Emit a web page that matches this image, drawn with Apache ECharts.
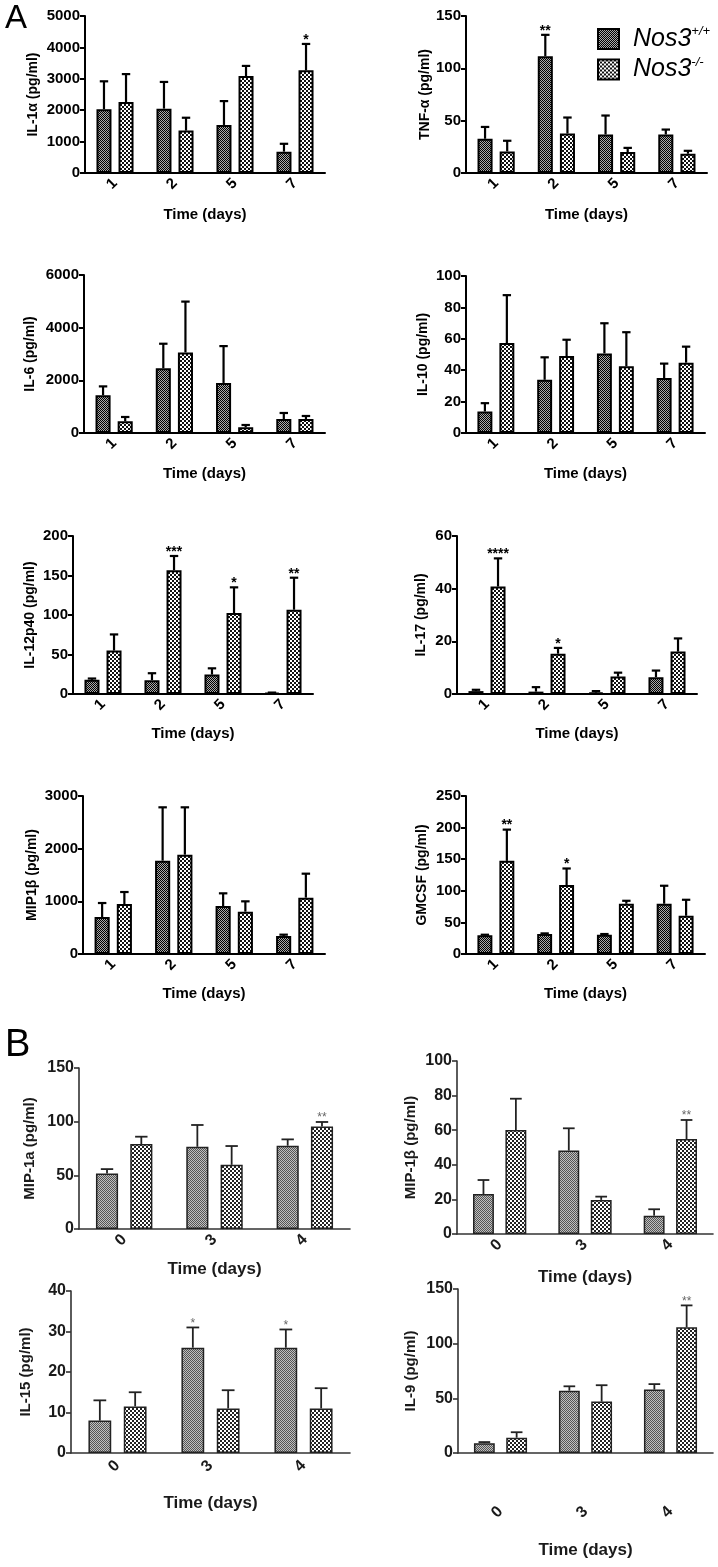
<!DOCTYPE html>
<html><head><meta charset="utf-8">
<script src="https://cdn.jsdelivr.net/npm/echarts@6/dist/echarts.min.js"></script>
<style>html,body{margin:0;padding:0;background:#fff}#c{width:718px;height:1567px}</style>
</head><body><div id="c"></div>
<script>
// ---------- DATA ----------
const daysA = ['1', '2', '5', '7'];
const daysB = ['0', '3', '4'];
const seriesNames = ['Nos3+/+', 'Nos3-/-'];

const il1aWT = [2030, 2050, 1530, 680];
const il1aWTsem = [890, 850, 760, 250];
const il1aKO = [2260, 1350, 3090, 3270];
const il1aKOsem = [890, 410, 320, 840];
const il1aWTstars = ['', '', '', ''];
const il1aKOstars = ['', '', '', '*'];

const tnfWT = [32.7, 111.6, 36.8, 36.8];
const tnfWTsem = [11.3, 20.4, 18.1, 4.7];
const tnfKO = [20.6, 37.7, 20, 18.4];
const tnfKOsem = [10.2, 15.3, 4, 2.8];
const tnfWTstars = ['', '**', '', ''];
const tnfKOstars = ['', '', '', ''];

const il6WT = [1430, 2460, 1900, 532];
const il6WTsem = [340, 930, 1400, 228];
const il6KO = [443, 3060, 215, 532];
const il6KOsem = [165, 1930, 89, 114];
const il6WTstars = ['', '', '', ''];
const il6KOstars = ['', '', '', ''];

const il10WT = [13.7, 33.9, 50.7, 35];
const il10WTsem = [5.3, 14.3, 19.2, 9.2];
const il10KO = [57.3, 49, 42.5, 44.8];
const il10KOsem = [30.5, 10.4, 21.7, 10.2];
const il10WTstars = ['', '', '', ''];
const il10KOstars = ['', '', '', ''];

const il12WT = [17.9, 17.5, 24.6, 1.5];
const il12WTsem = [1.7, 8.8, 7.9, 0.3];
const il12KO = [55, 156.6, 102.5, 106.7];
const il12KOsem = [20.4, 18.1, 32.5, 40.5];
const il12WTstars = ['', '', '', ''];
const il12KOstars = ['', '***', '*', '**'];

const il17WT = [1.1, 0.9, 0.5, 6.4];
const il17WTsem = [0.5, 1.7, 0.6, 2.5];
const il17KO = [40.8, 15.3, 6.6, 16.1];
const il17KOsem = [10.7, 2.2, 1.5, 5];
const il17WTstars = ['', '', '', ''];
const il17KOstars = ['****', '*', '', ''];

const mip1bWT = [702, 1772, 911, 342];
const mip1bWTsem = [266, 1013, 241, 25];
const mip1bKO = [949, 1886, 804, 1070];
const mip1bKOsem = [228, 899, 196, 455];
const mip1bWTstars = ['', '', '', ''];
const mip1bKOstars = ['', '', '', ''];

const gmcsfWT = [29.5, 31.6, 30.5, 79.5];
const gmcsfWTsem = [1, 1, 1.1, 28.5];
const gmcsfKO = [147.4, 109, 79.5, 60.5];
const gmcsfKOsem = [49.4, 26.3, 4.7, 25.3];
const gmcsfWTstars = ['', '', '', ''];
const gmcsfKOstars = ['**', '*', '', ''];

const bMip1aWT = [51.7, 76.6, 77.6];
const bMip1aWTsem = [4.1, 20.3, 5.9];
const bMip1aKO = [79.1, 59.8, 95.6];
const bMip1aKOsem = [6.9, 17.5, 4.1];
const bMip1aWTstars = ['', '', ''];
const bMip1aKOstars = ['', '', '**'];

const bMip1bWT = [23.1, 48.2, 10.6];
const bMip1bWTsem = [8.1, 12.9, 3.7];
const bMip1bKO = [60.1, 19.7, 54.9];
const bMip1bKOsem = [18.1, 1.9, 11];
const bMip1bWTstars = ['', '', ''];
const bMip1bKOstars = ['', '', '**'];

const il15WT = [8, 26, 26];
const il15WTsem = [5, 5, 4.5];
const il15KO = [11.5, 11, 11];
const il15KOsem = [3.5, 4.5, 5];
const il15WTstars = ['', '*', '*'];
const il15KOstars = ['', '', ''];

const il9WT = [9, 57, 58];
const il9WTsem = [1, 4, 5];
const il9KO = [14, 47, 115];
const il9KOsem = [5, 15, 20];
const il9WTstars = ['', '', ''];
const il9KOstars = ['', '', '**'];

// ---------- PANELS ----------
const panels = [
  {y: 'IL-1α (pg/ml)', cats: daysA, wt: il1aWT, ws: il1aWTsem, ko: il1aKO, ks: il1aKOsem, wst: il1aWTstars, kst: il1aKOstars, max: 5000, iv: 1000},
  {y: 'TNF-α (pg/ml)', cats: daysA, wt: tnfWT, ws: tnfWTsem, ko: tnfKO, ks: tnfKOsem, wst: tnfWTstars, kst: tnfKOstars, max: 150, iv: 50},
  {y: 'IL-6 (pg/ml)', cats: daysA, wt: il6WT, ws: il6WTsem, ko: il6KO, ks: il6KOsem, wst: il6WTstars, kst: il6KOstars, max: 6000, iv: 2000},
  {y: 'IL-10 (pg/ml)', cats: daysA, wt: il10WT, ws: il10WTsem, ko: il10KO, ks: il10KOsem, wst: il10WTstars, kst: il10KOstars, max: 100, iv: 20},
  {y: 'IL-12p40 (pg/ml)', cats: daysA, wt: il12WT, ws: il12WTsem, ko: il12KO, ks: il12KOsem, wst: il12WTstars, kst: il12KOstars, max: 200, iv: 50},
  {y: 'IL-17 (pg/ml)', cats: daysA, wt: il17WT, ws: il17WTsem, ko: il17KO, ks: il17KOsem, wst: il17WTstars, kst: il17KOstars, max: 60, iv: 20},
  {y: 'MIP1β (pg/ml)', cats: daysA, wt: mip1bWT, ws: mip1bWTsem, ko: mip1bKO, ks: mip1bKOsem, wst: mip1bWTstars, kst: mip1bKOstars, max: 3000, iv: 1000},
  {y: 'GMCSF (pg/ml)', cats: daysA, wt: gmcsfWT, ws: gmcsfWTsem, ko: gmcsfKO, ks: gmcsfKOsem, wst: gmcsfWTstars, kst: gmcsfKOstars, max: 250, iv: 50},
  {y: 'MIP-1a (pg/ml)', cats: daysB, wt: bMip1aWT, ws: bMip1aWTsem, ko: bMip1aKO, ks: bMip1aKOsem, wst: bMip1aWTstars, kst: bMip1aKOstars, max: 150, iv: 50, b: true},
  {y: 'MIP-1β (pg/ml)', cats: daysB, wt: bMip1bWT, ws: bMip1bWTsem, ko: bMip1bKO, ks: bMip1bKOsem, wst: bMip1bWTstars, kst: bMip1bKOstars, max: 100, iv: 20, b: true},
  {y: 'IL-15 (pg/ml)', cats: daysB, wt: il15WT, ws: il15WTsem, ko: il15KO, ks: il15KOsem, wst: il15WTstars, kst: il15KOstars, max: 40, iv: 10, b: true},
  {y: 'IL-9 (pg/ml)', cats: daysB, wt: il9WT, ws: il9WTsem, ko: il9KO, ks: il9KOsem, wst: il9WTstars, kst: il9KOstars, max: 150, iv: 50, b: true}
];

// ---------- LAYOUT ----------
const layout = [
  {l: 85, t: 16, w: 240, h: 157, yg: 45, xg: 34, lm: 8},
  {l: 466, t: 16, w: 241, h: 157, yg: 34, xg: 34, lm: 8},
  {l: 84, t: 275, w: 241, h: 158, yg: 47, xg: 33, lm: 8},
  {l: 466, t: 276, w: 239, h: 157, yg: 36, xg: 33, lm: 8},
  {l: 73, t: 536, w: 240, h: 158, yg: 36, xg: 32, lm: 8},
  {l: 457, t: 536, w: 240, h: 158, yg: 29, xg: 32, lm: 8},
  {l: 83, t: 796, w: 242, h: 158, yg: 44, xg: 32, lm: 8},
  {l: 466, t: 796, w: 239, h: 158, yg: 37, xg: 32, lm: 8},
  {l: 79, t: 1068, w: 271, h: 161, yg: 42, xg: 32, lm: 8},
  {l: 457, t: 1061, w: 256, h: 173, yg: 39, xg: 35, lm: 8},
  {l: 71, t: 1291, w: 279, h: 162, yg: 38, xg: 42, lm: 10},
  {l: 458, t: 1289, w: 255, h: 164, yg: 40, xg: 89, lm: 56}
];

const FONT = '"Liberation Sans", Arial, sans-serif';

function makePattern(size, fn) {
  const c = document.createElement('canvas');
  c.width = size; c.height = size;
  const g = c.getContext('2d');
  for (let y = 0; y < size; y++) for (let x = 0; x < size; x++) {
    g.fillStyle = fn(x, y);
    g.fillRect(x, y, 1, 1);
  }
  return {image: c, repeat: 'repeat'};
}
const patA_WT = makePattern(2, (x, y) => ((x + y) % 2 === 0 ? '#000' : '#aaa'));
const patA_KO = makePattern(4, (x, y) => ((Math.floor(x / 2) + Math.floor(y / 2)) % 2 === 0 ? '#111' : '#fff'));
const patB_WT = makePattern(2, (x, y) => ((x + y) % 2 === 0 ? '#555' : '#c0c0c0'));
const patB_KO = makePattern(4, (x, y) => ((Math.floor(x / 2) + Math.floor(y / 2)) % 2 === 0 ? '#222' : '#fff'));

function errRender(stars, sign, bw, gap, lw, color, starFont, starColor) {
  return function (params, api) {
    const i = api.value(0), m = api.value(1), e = api.value(2);
    const band = api.size([1, 0])[0];
    const w = band * bw;
    const off = sign * w * (1 + gap) / 2;
    const p0 = api.coord([i, m]);
    const p1 = api.coord([i, m + e]);
    const x = p0[0] + off;
    const half = w * 0.28;
    const ch = [
      {type: 'line', shape: {x1: x, y1: p0[1], x2: x, y2: p1[1]}, style: {stroke: color, lineWidth: lw}},
      {type: 'line', shape: {x1: x - half, y1: p1[1], x2: x + half, y2: p1[1]}, style: {stroke: color, lineWidth: lw}}
    ];
    const s = stars[params.dataIndex];
    if (s) ch.push({type: 'text', style: {text: s, x: x, y: p1[1] - 4, align: 'center', verticalAlign: 'middle', font: starFont, fill: starColor}});
    return {type: 'group', children: ch};
  };
}

const grid = [], xAxis = [], yAxis = [], series = [];
panels.forEach((p, k) => {
  const L = layout[k];
  const B = !!p.b;
  const txt = B ? '#1a1a1a' : '#000';
  grid.push({left: L.l, top: L.t, width: L.w, height: L.h, containLabel: false});
  xAxis.push({
    type: 'category', gridIndex: k, data: p.cats,
    name: 'Time (days)', nameLocation: 'middle', nameGap: L.xg,
    nameTextStyle: {fontFamily: FONT, fontWeight: 'bold', fontSize: B ? 17 : 15, color: txt},
    axisLine: {lineStyle: {color: B ? '#333' : '#000', width: B ? 1.6 : 2}},
    axisTick: {alignWithLabel: true, length: 5, lineStyle: {color: B ? '#333' : '#000', width: B ? 1.6 : 2}},
    axisLabel: {rotate: 45, margin: L.lm, fontFamily: FONT, fontWeight: 'bold', fontSize: B ? 16 : 15, color: txt}
  });
  yAxis.push({
    type: 'value', gridIndex: k, min: 0, max: p.max, interval: p.iv,
    name: p.y, nameLocation: 'middle', nameGap: L.yg,
    nameTextStyle: {fontFamily: FONT, fontWeight: 'bold', fontSize: B ? 15 : 14, color: txt},
    axisLine: {show: true, lineStyle: {color: B ? '#333' : '#000', width: B ? 1.6 : 2}},
    axisTick: {show: true, length: 5, lineStyle: {color: B ? '#333' : '#000', width: B ? 1.6 : 2}},
    axisLabel: {margin: 5, fontFamily: FONT, fontWeight: 'bold', fontSize: B ? 16 : 15, color: txt,
      formatter: function (v) { return String(v); }},
    splitLine: {show: false}
  });
  const bw = B ? 0.245 : 0.25;
  const gap = B ? 0.55 : 0.47;
  const border = B ? '#222' : '#000';
  const bwid = B ? 1.5 : 2;
  series.push({
    type: 'bar', name: seriesNames[0], xAxisIndex: k, yAxisIndex: k, data: p.wt,
    barWidth: (bw * 100) + '%', barGap: (gap * 100) + '%',
    itemStyle: {color: B ? patB_WT : patA_WT, borderColor: border, borderWidth: bwid},
    silent: true, z: 2
  });
  series.push({
    type: 'bar', name: seriesNames[1], xAxisIndex: k, yAxisIndex: k, data: p.ko,
    barWidth: (bw * 100) + '%', barGap: (gap * 100) + '%',
    itemStyle: {color: B ? patB_KO : patA_KO, borderColor: border, borderWidth: bwid},
    silent: true, z: 2
  });
  const starFont = B ? '12px ' + FONT : 'bold 14px ' + FONT;
  const starColor = B ? '#666' : '#000';
  const lc = B ? '#222' : '#000';
  series.push({
    type: 'custom', xAxisIndex: k, yAxisIndex: k, silent: true, z: 5,
    data: p.wt.map((v, i) => [i, v, p.ws[i]]),
    renderItem: errRender(p.wst, -1, bw, gap, B ? 1.8 : 2.2, lc, starFont, starColor)
  });
  series.push({
    type: 'custom', xAxisIndex: k, yAxisIndex: k, silent: true, z: 5,
    data: p.ko.map((v, i) => [i, v, p.ks[i]]),
    renderItem: errRender(p.kst, 1, bw, gap, B ? 1.8 : 2.2, lc, starFont, starColor)
  });
});

const chart = echarts.init(document.getElementById('c'), null, {renderer: 'canvas'});
chart.setOption({
  animation: false,
  backgroundColor: '#fff',
  grid, xAxis, yAxis, series,
  legend: {
    data: seriesNames.map(n => ({name: n, icon: 'rect'})), orient: 'vertical', left: 592, top: 20,
    itemWidth: 21, itemHeight: 20, itemGap: 4, selectedMode: false,
    itemStyle: {borderColor: '#000', borderWidth: 2},
    formatter: function (n) { return '{n|Nos3}{s|' + n.slice(4) + '}'; },
    textStyle: {
      padding: [0, 0, 0, 9],
      rich: {
        n: {fontFamily: FONT, fontStyle: 'italic', fontSize: 25, color: '#000', lineHeight: 28},
        s: {fontFamily: FONT, fontStyle: 'italic', fontSize: 13, color: '#000', verticalAlign: 'top', lineHeight: 14}
      }
    }
  },
  graphic: [
    {type: 'text', left: 5, top: 2, style: {text: 'A', font: '33px ' + FONT, fill: '#000'}},
    {type: 'text', left: 5, top: 1027, style: {text: 'B', font: '38px ' + FONT, fill: '#000'}}
  ]
});
</script>
</body></html>
